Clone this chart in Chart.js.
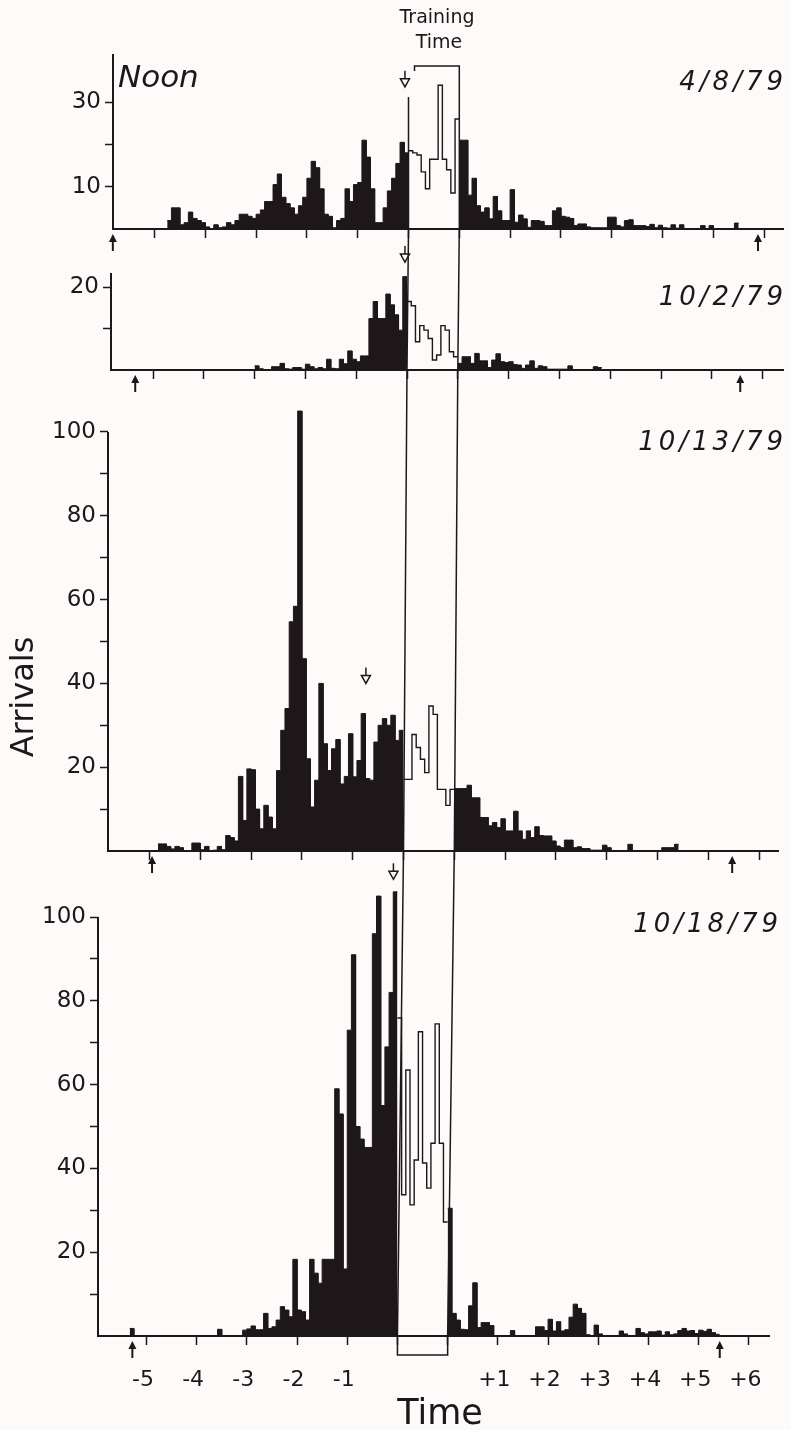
<!DOCTYPE html>
<html>
<head>
<meta charset="utf-8">
<script src="https://cdn.jsdelivr.net/npm/chart.js@4.4.1/dist/chart.umd.min.js"></script>
<style>
  html, body { margin: 0; padding: 0; background: #fcfbf9; }
  #wrap { position: relative; width: 791px; height: 1430px; }
  canvas { position: absolute; left: 0; top: 0; }
</style>
</head>
<body>
<div id="wrap">
  <canvas id="c0" width="791" height="1430"></canvas>
  <canvas id="c1" width="791" height="1430"></canvas>
  <canvas id="c2" width="791" height="1430"></canvas>
  <canvas id="c3" width="791" height="1430"></canvas>
</div>
<script>
// 5-minute bins, hours counted from the start of training (training lasts 1 h)
var binsPerHour = 12;
var hourTicks = [-5, -4, -3, -2, -1, 0, 1, 2, 3, 4, 5, 6, 7];
var hourLabels = ["-5", "-4", "-3", "-2", "-1", "", "", "+1", "+2", "+3", "+4", "+5", "+6"];
var dates = ["4/8/79", "10/2/79", "10/13/79", "10/18/79"];

// arrivals per bin: before training (ends at 0), during, after (starts at +1 h)
var before1 = [2, 5, 5, 1, 1.5, 4, 2.5, 2, 1.5, 0.5,
  0, 1, 0.3, 0.5, 1.5, 1, 2, 3.5, 3.5, 3,
  2.5, 3.5, 4.5, 6.5, 6.5, 10.5, 13, 7.5, 6, 5,
  3.5, 5.5, 7.5, 12, 16, 14.5, 9.5, 3.5, 3, 0.3,
  2, 2.5, 9.5, 6.5, 10.5, 11, 21, 17, 9.5, 1.5,
  1.5, 5, 9, 12, 15.5, 20.5, 18];
var training1 = [18.5, 18, 17.5, 13.5, 9.5, 16.5, 16.5, 34, 16.5, 14, 8.5, 26];
var after1 = [21, 21, 8, 12, 5.5, 4, 5, 2.4, 7.7, 4.3,
  2, 2, 9.3, 1.6, 3.3, 2.4, 0.4, 2, 2, 1.8,
  0.8, 0.8, 4.3, 5, 3, 2.8, 2.5, 0.8, 1.2, 1.2,
  0.5, 0.3, 0.3, 0.3, 0.3, 2.8, 2.8, 0.8, 0.5, 2,
  2.2, 0.8, 0.8, 0.8, 0.6, 1.1, 0.3, 0.9, 0.3, 0.2,
  1, 0.2, 1, 0, 0, 0, 0, 0.8, 0, 0.8,
  0, 0, 0, 0, 0, 1.4];

var before2 = [1, 0.3, 0, 0, 0.8, 0.8, 1.6, 0.3, 0.2, 0.6,
  0.6, 0.2, 1.4, 0.8, 0.3, 0.6, 0.3, 2.6, 0.4, 0.3,
  2.6, 1.5, 4.6, 2.6, 2, 3.4, 3.4, 12.4, 16.5, 12.4,
  12.4, 18.3, 15.7, 13.3, 9.6, 22.5];
var training2 = [16.5, 15.5, 6.8, 10.7, 9.6, 7.6, 2.4, 3.6, 10.7, 9.6, 4.4, 3.2];
var after2 = [1.6, 3.2, 3.2, 1.6, 4, 2.2, 2.2, 0.6, 2.4, 3.9,
  2, 1.8, 2, 1.3, 1.2, 0.4, 1.2, 2.2, 0.4, 1,
  0.8, 0.2, 0.2, 0.2, 0.2, 0.2, 1, 0.1, 0.1, 0.1,
  0.1, 0.1, 0.8, 0.6];

var before3 = [1.7, 1.7, 1.1, 0.5, 1.1, 0.8, 0, 0, 1.9, 1.9,
  0.3, 1.1, 0, 0.2, 1.1, 0.3, 3.7, 3.2, 2.4, 17.8,
  7.3, 19.6, 19.4, 10, 5.3, 10.9, 8.1, 5.3, 19.2, 28.8,
  34, 54.7, 58.4, 105, 45.9, 22, 10.5, 16.9, 40, 25.6,
  19.2, 24.4, 26.6, 16, 17.8, 28, 17.7, 21.6, 32.8, 17.3,
  16.9, 26, 30, 31.6, 30, 32.4, 26.4, 28.8];
var training3 = [17.1, 17.1, 27.8, 24.7, 21.9, 18.7, 34.6, 32.6, 14.7, 14.7, 10.9, 14.7];
var after3 = [14.9, 14.9, 14.9, 15.7, 12.7, 12.7, 8, 8, 6, 6.8,
  5.6, 7.7, 4.8, 4.8, 9.5, 4.8, 2.8, 4.8, 3.2, 5.8,
  3.7, 3.6, 3.6, 2.4, 1.2, 0.8, 2.6, 2.6, 0.8, 1,
  0.6, 0.6, 0.2, 0.2, 0.2, 1.4, 0.8, 0, 0, 0,
  0, 1.6, 0, 0, 0, 0, 0, 0, 0, 0.8,
  0.8, 0.8, 1.6];

var before4 = [1.8, 0, 0, 0, 0, 0, 0, 0, 0, 0,
  0, 0, 0, 0, 0, 0, 0, 0, 0, 0,
  0, 1.6, 0, 0, 0, 0, 0, 1.4, 1.7, 2.4,
  1.5, 1.5, 5.4, 1.8, 2.2, 3.8, 7, 6.2, 4.6, 18.3,
  6.2, 5.8, 3.8, 18.3, 15, 12.6, 18.3, 18.3, 18.3, 59,
  53, 16, 73, 91, 50, 47, 45, 45, 96, 105,
  55, 69, 82, 106];
var training4 = [75.9, 33.7, 63.5, 31.3, 42, 72.6, 41.3, 35.3, 46, 74.5, 46, 27.2];
var after4 = [30.5, 5.4, 3.8, 1.6, 1.5, 7.2, 12.7, 2, 3.2, 3.2,
  2.5, 0, 0, 0, 0, 1.3, 0, 0, 0, 0,
  0, 2.2, 2.2, 1.3, 4, 1.2, 3.4, 1.2, 1.5, 4.5,
  7.6, 6.6, 5.4, 0.3, 0, 2.6, 0.5, 0, 0, 0,
  0, 1.2, 0.5, 0, 0, 1.8, 0.8, 0.5, 1, 1,
  1.2, 0.2, 1, 0.3, 0.5, 1.3, 1.8, 1.2, 1.3, 0.6,
  1.4, 1.1, 1.6, 0.8, 0.4];

var yTicks = [[10, 20, 30], [10, 20], [10, 20, 30, 40, 50, 60, 70, 80, 90, 100], [10, 20, 30, 40, 50, 60, 70, 80, 90, 100]];
var yLabelled = [[10, 30], [20], [20, 40, 60, 80, 100], [20, 40, 60, 80, 100]];
var yAxisTops = [41.4, 23.4, 100, 100];
var sunArrows = [[-5.82, 6.88], [-5.35, 6.56], [-4.95, 6.47], [-5.28, 6.42]];
var openArrowHours = [-0.07, -0.04, -0.74, -0.08];
var openArrowValues = [33.6, 26, 40, 109];

var panels = [
  [before1, training1, after1],
  [before2, training2, after2],
  [before3, training3, after3],
  [before4, training4, after4]
];

// page geometry of each panel (pixels)
var layout = [
  {left: 113, right: 783, base: 229, pxUnit: 4.23, x0: 408.5, yMax: 45, dateX: 787, dateY: 90},
  {left: 111, right: 783, base: 370, pxUnit: 4.15, x0: 407, yMax: 25, dateX: 787, dateY: 305},
  {left: 108, right: 778, base: 851, pxUnit: 4.19, x0: 403.5, yMax: 112, dateX: 787, dateY: 450},
  {left: 98, right: 777, base: 1336, pxUnit: 4.19, x0: 401, yMax: 112, dateX: 782, dateY: 932}
];
var pxPerHour = 50.8;
var ink = "#1d1719";
var paper = "#fcfbf9";
var family = '"DejaVu Sans", sans-serif';
var charts = [];

function binPoints(values, firstBin) {
  var pts = [];
  values.forEach(function (v, i) {
    pts.push({x: (firstBin + i) / binsPerHour, y: v});
    pts.push({x: (firstBin + i + 1) / binsPerHour, y: v});
  });
  return pts;
}

function sunArrow(ctx, x, y) {
  ctx.beginPath();
  ctx.moveTo(x, y);
  ctx.lineTo(x - 4, y + 8);
  ctx.lineTo(x + 4, y + 8);
  ctx.closePath();
  ctx.fill();
  ctx.lineWidth = 2;
  ctx.beginPath();
  ctx.moveTo(x, y + 6);
  ctx.lineTo(x, y + 17);
  ctx.stroke();
}

function openArrow(ctx, x, tip) {
  ctx.lineWidth = 1.5;
  ctx.beginPath();
  ctx.moveTo(x, tip - 16);
  ctx.lineTo(x, tip - 8);
  ctx.stroke();
  ctx.beginPath();
  ctx.moveTo(x - 4.5, tip - 8);
  ctx.lineTo(x + 4.5, tip - 8);
  ctx.lineTo(x, tip);
  ctx.closePath();
  ctx.fillStyle = paper;
  ctx.fill();
  ctx.stroke();
  ctx.fillStyle = ink;
}

function trainingLines(ctx, all) {
  var L = all.map(function (c) { return {x: c.scales.x.getPixelForValue(0), y: c.scales.y.getPixelForValue(0)}; });
  var R = all.map(function (c) { return {x: c.scales.x.getPixelForValue(1), y: c.scales.y.getPixelForValue(0)}; });
  var boxDepth = 19;
  ctx.lineWidth = 1.5;
  ctx.beginPath();
  ctx.moveTo(L[0].x, 97);
  L.forEach(function (p) { ctx.lineTo(p.x, p.y); });
  ctx.lineTo(L[3].x, L[3].y + boxDepth);
  ctx.lineTo(R[3].x, R[3].y + boxDepth);
  for (var k = 3; k >= 0; k--) ctx.lineTo(R[k].x, R[k].y);
  ctx.lineTo(R[0].x, 66);
  ctx.lineTo(L[0].x + 6, 66);
  ctx.lineTo(L[0].x + 6, 71);
  ctx.stroke();
}

var decor = {
  id: "decor",
  afterDraw: function (chart, args, opts) {
    var i = opts.panel;
    var ctx = chart.ctx;
    var xS = chart.scales.x, yS = chart.scales.y;
    var g = layout[i];
    ctx.save();
    ctx.strokeStyle = ink;
    ctx.fillStyle = ink;
    ctx.lineWidth = 2;
    ctx.beginPath();
    ctx.moveTo(chart.chartArea.left, yS.getPixelForValue(0) + 1);
    ctx.lineTo(chart.chartArea.left, yS.getPixelForValue(yAxisTops[i]));
    ctx.stroke();

    sunArrows[i].forEach(function (h) {
      sunArrow(ctx, xS.getPixelForValue(h), yS.getPixelForValue(0) + 5);
    });
    openArrow(ctx, xS.getPixelForValue(openArrowHours[i]), yS.getPixelForValue(openArrowValues[i]));

    ctx.textBaseline = "alphabetic";
    ctx.font = "italic 26px " + family;
    ctx.textAlign = "right";
    ctx.letterSpacing = "4px";
    ctx.fillText(dates[i], g.dateX, g.dateY);
    ctx.letterSpacing = "0px";

    if (i === 0) {
      ctx.textAlign = "left";
      ctx.font = "italic 31px " + family;
      ctx.fillText("Noon", 118, 87);
      ctx.textAlign = "center";
      ctx.font = "19px " + family;
      ctx.fillText("Training", 437, 23);
      ctx.fillText("Time", 439, 48);
    }
    if (i === 2) {
      ctx.save();
      ctx.translate(33, 697);
      ctx.rotate(-Math.PI / 2);
      ctx.textAlign = "center";
      ctx.font = "32px " + family;
      ctx.fillText("Arrivals", 0, 0);
      ctx.restore();
    }
    if (i === 3) {
      ctx.textAlign = "center";
      ctx.font = "35px " + family;
      ctx.fillText("Time", 440, 1424);
      trainingLines(ctx, charts.slice(0, 3).concat([chart]));
    }
    ctx.restore();
  }
};

panels.forEach(function (p, i) {
  var g = layout[i];
  var xMin = (g.left - g.x0) / pxPerHour;
  var xMax = (g.right - g.x0) / pxPerHour;
  var showX = i === 3;
  var xAxisH = showX ? 64 : 30;
  var chart = new Chart("c" + i, {
    type: "line",
    data: {
      datasets: [
        {data: binPoints(p[0], -p[0].length), fill: "origin", backgroundColor: ink, borderColor: ink, borderWidth: 1},
        {data: binPoints(p[2], binsPerHour), fill: "origin", backgroundColor: ink, borderColor: ink, borderWidth: 1},
        {data: binPoints(p[1], 0), fill: false, borderColor: ink, borderWidth: 1.4}
      ]
    },
    options: {
      responsive: false,
      devicePixelRatio: 1,
      animation: false,
      events: [],
      elements: {point: {radius: 0}, line: {tension: 0}},
      layout: {padding: {left: 0, right: 791 - g.right, top: g.base - g.yMax * g.pxUnit, bottom: 1430 - g.base - xAxisH}},
      plugins: {legend: {display: false}, tooltip: {enabled: false}, decor: {panel: i}},
      scales: {
        x: {
          type: "linear",
          min: xMin,
          max: xMax,
          afterBuildTicks: function (s) { s.ticks = hourTicks.map(function (v) { return {value: v}; }); },
          afterFit: function (s) { s.height = xAxisH; },
          border: {display: true, color: ink, width: 2},
          grid: {display: true, drawOnChartArea: false, drawTicks: true, tickLength: 9, tickColor: ink, tickWidth: 1.5},
          ticks: {
            autoSkip: false, maxRotation: 0, minRotation: 0, padding: 22, color: ink,
            font: {family: family, size: 22},
            callback: function (v) {
              if (!showX) return "";
              var k = hourTicks.indexOf(v);
              return k < 0 || hourLabels[k] === "" ? "" : hourLabels[k] + " ";
            }
          }
        },
        y: {
          type: "linear",
          min: 0,
          max: g.yMax,
          afterBuildTicks: function (s) { s.ticks = yTicks[i].map(function (v) { return {value: v}; }); },
          afterFit: function (s) { s.width = g.left; },
          border: {display: false},
          grid: {display: true, drawOnChartArea: false, drawTicks: true, tickLength: 8, tickColor: ink, tickWidth: 1.5},
          ticks: {
            padding: 4, color: ink,
            font: {family: family, size: 23},
            callback: function (v) { return yLabelled[i].indexOf(v) >= 0 ? String(v) : ""; }
          }
        }
      }
    },
    plugins: [decor]
  });
  charts.push(chart);
});
</script>
</body>
</html>
